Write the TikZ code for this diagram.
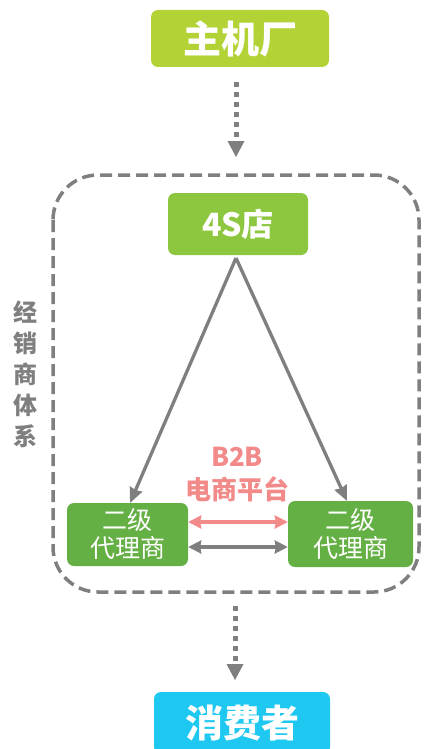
\documentclass[tikz,border=0pt]{standalone}
\usepackage{fontspec}
\newfontfamily\cjk{Noto Sans CJK SC}
\usetikzlibrary{arrows.meta}
\definecolor{topgreen}{HTML}{B2D235}
\definecolor{midgreen}{HTML}{8DC63F}
\definecolor{agent}{HTML}{65B045}
\definecolor{cust}{HTML}{1EC8F0}
\definecolor{greyline}{HTML}{7F7F7F}
\definecolor{pinkline}{HTML}{F28A8A}
\tikzset{
  box/.style={rounded corners=7pt, inner sep=0pt, text=white, align=center},
  dotarrow/.style={draw=greyline, line width=5pt, dash pattern=on 5pt off 5pt, -{Triangle[width=17pt,length=16pt,line width=0pt,fill=greyline]}},
  solidarrow/.style={draw=greyline, line width=3.3pt, -{Stealth[width=13pt,length=15pt,inset=1pt]}},
  dblarrow/.style={line width=3.5pt, {Stealth[width=13pt,length=13pt,inset=1pt]}-{Stealth[width=13pt,length=13pt,inset=1pt]}},
}
\begin{document}
\begin{tikzpicture}[x=1pt,y=-1pt]
\useasboundingbox (0,0) rectangle (428,749);
% group
\draw[greyline, line width=3.5pt, dash pattern=on 12pt off 6pt, rounded corners=45pt] (53,175) rectangle (419,592);
% nodes
\node[box, fill=topgreen, minimum width=178pt, minimum height=57pt, font=\cjk\bfseries\fontsize{38}{42}\selectfont] (oem) at (240,38.5) {主机厂};
\node[box, fill=midgreen, minimum width=140pt, minimum height=62pt, font=\cjk\bfseries\fontsize{32}{36}\selectfont] (shop) at (238,224) {4S店};
\node[box, fill=agent, minimum width=121pt, minimum height=63pt, font=\cjk\fontsize{25}{28}\selectfont] (a1) at (127.5,534.5) {二级\\代理商};
\node[box, fill=agent, minimum width=125pt, minimum height=66pt, font=\cjk\fontsize{25}{28}\selectfont] (a2) at (350.5,534) {二级\\代理商};
\node[box, fill=cust, minimum width=176pt, minimum height=62pt, font=\cjk\bfseries\fontsize{38}{42}\selectfont] (cons) at (242,723) {消费者};
\node[text=pinkline, align=center, font=\cjk\bfseries\fontsize{26}{33}\selectfont] (b2b) at (237,475) {B2B\\电商平台};
\node[text=greyline, align=center, font=\cjk\bfseries\fontsize{24}{31}\selectfont] (side) at (25,374) {经\\销\\商\\体\\系};
% connectors
\coordinate (d1s) at (236,82);
\coordinate (d1e) at (236,157);
\draw[dotarrow] (d1s) -- (d1e);
\coordinate (d2s) at (235,606);
\coordinate (d2e) at (235,680);
\draw[dotarrow] (d2s) -- (d2e);
\coordinate (apex) at (236,258);
\coordinate (l1) at (130,503);
\coordinate (r1) at (347,501);
\draw[solidarrow] (apex) -- (l1);
\draw[solidarrow] (apex) -- (r1);
\draw[dblarrow, draw=pinkline, fill=pinkline] (a1.east |- 0,522) -- (a2.west |- 0,522);
\draw[dblarrow, draw=greyline, fill=greyline] (a1.east |- 0,547) -- (a2.west |- 0,547);
\end{tikzpicture}
\end{document}
